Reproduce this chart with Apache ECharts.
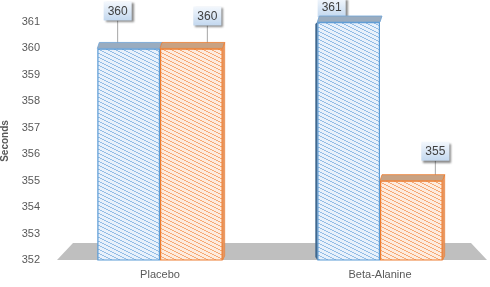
<!DOCTYPE html>
<html><head><meta charset="utf-8">
<script src="https://cdn.jsdelivr.net/npm/echarts@6/dist/echarts.min.js"></script>
<style>html,body{margin:0;padding:0;background:#fff}#c{width:490px;height:287px}</style>
</head><body><div id="c"></div>
<script>
const categories = ['Placebo', 'Beta-Alanine'];
const seriesNames = ['Series1', 'Series2'];
const blueValues = [360, 361];
const orangeValues = [360, 355];
const yMin = 352, yMax = 361, yStep = 1;

function hatch(bg, line) {
  const c = document.createElement('canvas');
  c.width = 8; c.height = 4;
  const g = c.getContext('2d');
  g.fillStyle = bg; g.fillRect(0, 0, 8, 4);
  g.fillStyle = line;
  for (let x = 0; x < 8; x++) {
    const y = Math.floor(x / 2);
    g.fillRect(x, y, 1, 1);
  }
  return c;
}
const bluePat = { image: hatch('#e8f1fb', '#93bde6'), repeat: 'repeat' };
const orangePat = { image: hatch('#fdecdf', '#f7aa76'), repeat: 'repeat' };

// label offsets (dx, dy) for callouts
const labelOffsets = [[[-11, -23], [-17, 0]], [[16, -18], [24, -15]]];

const labelStyle = {
  show: true, position: 'top', distance: 5,
  fontFamily: 'Liberation Sans, Arial', fontSize: 12, color: '#404040',
  padding: [4, 4, 3, 4],
  backgroundColor: { type: 'linear', x: 0, y: 0, x2: 0, y2: 1,
    colorStops: [{ offset: 0, color: '#f4f8fd' }, { offset: 1, color: '#c3d8ef' }] },
  shadowColor: 'rgba(0,0,0,0.45)', shadowBlur: 2, shadowOffsetX: 2, shadowOffsetY: 2
};

const chart = echarts.init(document.getElementById('c'), null, { renderer: 'canvas' });

const BAR_GAP_RATIO = 0.43;
function barGeom(api, catIdx, sIdx, val) {
  const p = api.coord([catIdx, val]);
  const band = api.size([1, 0])[0];
  const bw = band * (1 - BAR_GAP_RATIO) / 2;
  const x0 = p[0] - bw + sIdx * bw;
  return { x0, x1: x0 + bw, y: p[1] };
}

const topData = [];
blueValues.forEach((v, i) => topData.push([i, v, 0]));
orangeValues.forEach((v, i) => topData.push([i, v, 1]));

chart.setOption({
  animation: false,
  grid: { left: 50, right: 0, top: 22, bottom: 27, containLabel: false, outerBoundsMode: 'none' },
  xAxis: {
    type: 'category', data: categories,
    axisLine: { show: false }, axisTick: { show: false },
    axisLabel: { color: '#595959', fontSize: 11, margin: 9, fontFamily: 'Liberation Sans, Arial' }
  },
  yAxis: {
    type: 'value', min: yMin, max: yMax, interval: yStep,
    name: 'Seconds', nameLocation: 'middle', nameGap: 38, nameRotate: 90,
    nameTextStyle: { color: '#595959', fontSize: 10, fontWeight: 'bold', fontFamily: 'Liberation Sans, Arial' },
    axisLine: { show: false }, axisTick: { show: false }, splitLine: { show: false },
    axisLabel: { color: '#595959', fontSize: 11, margin: 10, fontFamily: 'Liberation Sans, Arial' }
  },
  series: [
    {
      type: 'custom', name: 'floor', z: 1, silent: true,
      data: [[0, yMin]],
      renderItem: function (params, api) {
        const cs = params.coordSys;
        const yb = api.coord([0, yMin])[1];
        const l = cs.x, r = cs.x + cs.width;
        return { type: 'polygon', shape: { points: [[l + 7, yb], [r - 3, yb], [r - 19, yb - 17], [l + 23, yb - 17]] },
          style: { fill: '#bfbfbf' } };
      }
    },
    {
      type: 'bar', name: seriesNames[0], data: blueValues, barGap: '0%', barCategoryGap: '43%', z: 3,
      itemStyle: { color: bluePat, borderColor: '#5b9bd5', borderWidth: 1.2 },
      label: labelStyle, labelLine: { show: true, lineStyle: { color: '#a6a6a6', width: 1 } },
      labelLayout: function (p) { const o = labelOffsets[0][p.dataIndex]; return { dx: o[0], dy: o[1] }; }
    },
    {
      type: 'bar', name: seriesNames[1], data: orangeValues, z: 3,
      itemStyle: { color: orangePat, borderColor: '#ed7d31', borderWidth: 1.2 },
      label: labelStyle, labelLine: { show: true, lineStyle: { color: '#a6a6a6', width: 1 } },
      labelLayout: function (p) { const o = labelOffsets[1][p.dataIndex]; return { dx: o[0], dy: o[1] }; }
    },
    {
      type: 'custom', name: 'tops', z: 4, silent: true,
      data: topData,
      renderItem: function (params, api) {
        const cat = api.value(0), val = api.value(1), s = api.value(2);
        const g = barGeom(api, cat, s, val);
        const dx = 2, dy = -6;
        const fill = s === 0 ? '#9aacbf' : '#c8a283';
        const edge = s === 0 ? '#6fa3d6' : '#ed7d31';
        const yb = api.coord([cat, yMin])[1];
        const children = [
          { type: 'polygon', shape: { points: [[g.x0, g.y], [g.x1, g.y], [g.x1 + dx, g.y + dy], [g.x0 + dx, g.y + dy]] },
            style: { fill: fill, stroke: edge, lineWidth: 0.8 } }
        ];
        if (s === 1) {
          children.push({ type: 'polygon', shape: { points: [[g.x1, g.y], [g.x1 + dx, g.y + dy], [g.x1 + dx, yb - 4], [g.x1, yb]] },
            style: { fill: '#e59a68', stroke: edge, lineWidth: 0.6 } });
        }
        if (s === 0 && cat === 1) {
          children.push({ type: 'polygon', shape: { points: [[g.x0, g.y], [g.x0 - 2, g.y + 2], [g.x0 - 2, yb - 3], [g.x0, yb]] },
            style: { fill: '#3f6890' } });
        }
        return { type: 'group', children: children };
      }
    }
  ]
});
</script></body></html>
